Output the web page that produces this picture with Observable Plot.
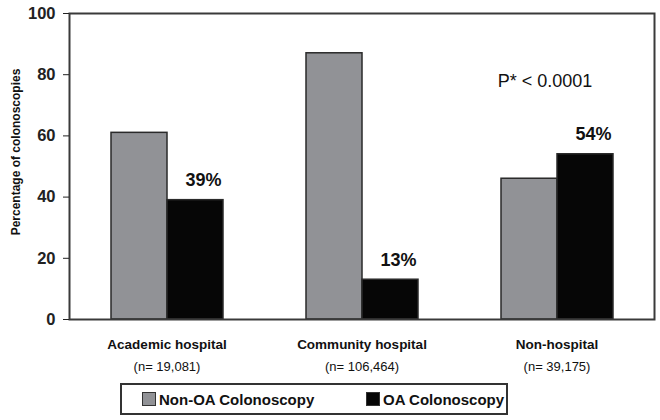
<!DOCTYPE html>
<html>
<head>
<meta charset="utf-8">
<script src="https://cdn.jsdelivr.net/npm/d3@7"></script>
<script src="https://cdn.jsdelivr.net/npm/@observablehq/plot@0.6"></script>
<style>
  html, body { margin: 0; padding: 0; background: #fff; }
  #wrap { position: relative; width: 660px; height: 420px; background: #fff; overflow: hidden; }
  #ylabel { position: absolute; left: -84px; top: 145px; width: 200px; height: 14px; line-height: 14px;
            text-align: center; transform: rotate(-90deg); white-space: nowrap;
            font-family: "Liberation Sans", Arial, sans-serif; font-weight: bold; font-size: 12px; color: #111; }
  #legend { position: absolute; left: 120px; top: 383px; width: 384px; height: 28px;
            border: 2px solid #333; background: #fff;
            font-family: "Liberation Sans", Arial, sans-serif;
            font-weight: bold; font-size: 15px; color: #111; }
  .item { position: absolute; top: 0; height: 28px; display: flex; align-items: center; white-space: nowrap; }
  .sw { width: 12px; height: 12px; border: 1px solid #333; margin-right: 3px; }
</style>
</head>
<body>
<div id="wrap">
  <div id="chart"></div>
  <div id="ylabel"></div>
  <div id="legend"></div>
</div>
<script>
const categories = ["Academic hospital", "Community hospital", "Non-hospital"];
const nLabels = ["(n= 19,081)", "(n= 106,464)", "(n= 39,175)"];
const series = ["Non-OA Colonoscopy", "OA Colonoscopy"];
const nonOA = [61, 87, 46];
const oa = [39, 13, 54];
const oaLabels = ["39%", "13%", "54%"];
const yTicks = [0, 20, 40, 60, 80, 100];
const colors = ["#919296", "#060606"];
const yLabel = "Percentage of colonoscopies";
const pNote = ["P* < 0.0001"];
const pCategory = ["Non-hospital"];
const pY = [78];

const table = [];
categories.forEach((c, i) => {
  table.push({category: c, series: series[0], value: nonOA[i]});
  table.push({category: c, series: series[1], value: oa[i], label: oaLabels[i]});
});
const oaRows = table.filter(d => d.series === series[1]);
const nRows = categories.map((c, i) => ({category: c, n: nLabels[i]}));
const pRows = pNote.map((t, i) => ({category: pCategory[i], y: pY[i], text: t}));

const font = '"Liberation Sans", Arial, sans-serif';

const chart = Plot.plot({
  width: 660,
  height: 380,
  marginTop: 13,
  marginBottom: 61,
  marginLeft: 68,
  marginRight: 6,
  style: {fontFamily: font, background: "#fff", color: "#111"},
  fx: {domain: categories, paddingInner: 0, paddingOuter: 0, label: null},
  x: {domain: series, paddingInner: 0, paddingOuter: 0.735, axis: null},
  y: {domain: [0, 100], label: null},
  color: {domain: series, range: colors},
  marks: [
    Plot.barY(table, {fx: "category", x: "series", y: "value", fill: "series", stroke: "#2a2a2a", strokeWidth: 1.5}),
    Plot.frame({facet: "super", stroke: "#3a3a3a", strokeWidth: 2}),
    Plot.axisY({ticks: yTicks, tickSize: 6, tickPadding: 8, fontSize: 16.5, fontWeight: "bold", label: null, color: "#222"}),
    Plot.axisFx({anchor: "bottom", tickSize: 0, tickPadding: 20, fontSize: 13.5, fontWeight: "bold", label: null, color: "#111"}),
    Plot.text(nRows, {fx: "category", frameAnchor: "bottom", lineAnchor: "top", dy: 42, text: "n", fontSize: 13, fill: "#111"}),
    Plot.text(oaRows, {fx: "category", x: "series", y: "value", text: "label", lineAnchor: "bottom", dy: -14, dx: 8, fontSize: 18, fontWeight: "bold", fill: "#111"}),
    Plot.text(pRows, {fx: "category", y: "y", text: "text", dx: -12, fontSize: 18, fill: "#111"})
  ]
});
document.getElementById("chart").appendChild(chart);
document.getElementById("ylabel").textContent = yLabel;

const legend = document.getElementById("legend");
const legendLefts = [20, 244];
series.forEach((s, i) => {
  const item = document.createElement("div");
  item.className = "item";
  item.style.left = legendLefts[i] + "px";
  const sw = document.createElement("div");
  sw.className = "sw";
  sw.style.background = colors[i];
  const t = document.createElement("span");
  t.textContent = s;
  item.appendChild(sw);
  item.appendChild(t);
  legend.appendChild(item);
});
</script>
</body>
</html>
